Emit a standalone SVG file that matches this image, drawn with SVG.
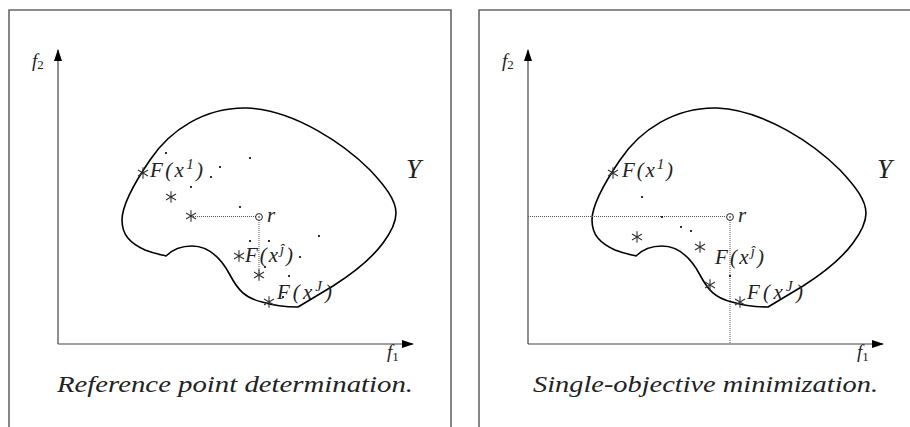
<svg xmlns="http://www.w3.org/2000/svg" xmlns:xlink="http://www.w3.org/1999/xlink" width="910" height="427" viewBox="0 0 910 427">
<style>
.frame{fill:none;stroke:#666;stroke-width:1.6}
.axis{fill:none;stroke:#444;stroke-width:1.2}
.shape{fill:none;stroke:#000;stroke-width:1.6;stroke-linejoin:round}
.dotted{fill:none;stroke:#555;stroke-width:1;stroke-dasharray:1 1}
.star{fill:none;stroke:#333;stroke-width:1.1}
.pt{fill:#000}
.lbl{font-family:"Liberation Serif","DejaVu Serif",serif;font-style:italic;font-size:21px;fill:#222}
.big{font-family:"Liberation Serif","DejaVu Serif",serif;font-style:italic;font-size:27px;fill:#222}
.cap{font-family:"Liberation Serif","DejaVu Serif",serif;font-style:italic;font-size:23px;fill:#222}
.ax{font-family:"Liberation Serif","DejaVu Serif",serif;font-style:italic;font-size:19px;fill:#222}
.sub{font-style:normal;font-size:13px}
.sup{font-size:15px}
</style>
<defs>
<marker id="arr" viewBox="0 0 12 8" refX="11" refY="4" markerWidth="12" markerHeight="8" markerUnits="userSpaceOnUse" orient="auto">
<path d="M0,0 L12,4 L0,8 Z" fill="#000"/>
</marker>
<path id="region" d="M166,256 C172,250 182,246 192,246 C210,246 222,260 230,275 C238,290 245,298 262,302 C275,306 285,307 298,307 L333,286 C355,272 372,258 383,243 C392,231 396,222 396,213 C396,200 385,186 370,170 C345,145 295,110 247,108 C205,107 170,130 150,160 C135,182 122,205 122,220 C122,235 130,243 145,250 C155,254 163,255 166,256 Z"/>
<g id="ast"><path d="M0,-5.8 V5.8 M-5,-2.9 L5,2.9 M-5,2.9 L5,-2.9"/></g>
</defs>

<g id="panel-left">
<path class="frame" d="M9,428 V10 H451 V428"/>
<g id="axes-left">
<line class="axis" x1="58" y1="344" x2="58" y2="50" marker-end="url(#arr)"/>
<line class="axis" x1="58" y1="344" x2="413" y2="344" marker-end="url(#arr)"/>
<text class="ax" x="32" y="67">f<tspan class="sub" dy="2">2</tspan></text>
<text class="ax" x="387" y="358">f<tspan class="sub" dy="3">1</tspan></text>
</g>
<use id="region-left" xlink:href="#region" class="shape"/>
<text class="big" x="406" y="178">Y</text>
<g id="connectors-left">
<line class="dotted" x1="193" y1="216.5" x2="256" y2="216.5"/>
<line class="dotted" x1="259" y1="220" x2="259" y2="273"/>
</g>
<g id="r-left">
<circle cx="259" cy="217" r="3.4" fill="none" stroke="#222" stroke-width="1"/>
<circle cx="259" cy="217" r="0.8" class="pt"/>
<text class="lbl" x="267" y="222">r</text>
</g>
<g id="stars-left" class="star">
<use xlink:href="#ast" x="143" y="173"/>
<use xlink:href="#ast" x="171" y="197"/>
<use xlink:href="#ast" x="191" y="216"/>
<use xlink:href="#ast" x="239" y="256"/>
<use xlink:href="#ast" x="259" y="275"/>
<use xlink:href="#ast" x="269" y="302"/>
</g>
<g id="dots-left" class="pt">
<circle cx="166" cy="153" r="1.1"/>
<circle cx="250" cy="158" r="1.1"/>
<circle cx="220" cy="167" r="1.1"/>
<circle cx="211" cy="177" r="1.1"/>
<circle cx="191" cy="187" r="1.1"/>
<circle cx="240" cy="207" r="1.1"/>
<circle cx="319" cy="236" r="1.1"/>
<circle cx="250" cy="241" r="1.1"/>
<circle cx="269" cy="241" r="1.1"/>
<circle cx="300" cy="257" r="1.1"/>
<circle cx="265" cy="267" r="1.1"/>
<circle cx="289" cy="276" r="1.1"/>
<circle cx="283" cy="297" r="1.1"/>
</g>
<g id="labels-left">
<text class="lbl" x="150" y="177" textLength="53">F(x<tspan class="sup" dy="-8">1</tspan><tspan dy="8">)</tspan></text>
<text class="lbl" x="245" y="262" textLength="48">F(x<tspan class="sup" dy="-8">ĵ</tspan><tspan dy="8">)</tspan></text>
<text class="lbl" x="277" y="299" textLength="55">F(x<tspan class="sup" dy="-8">J</tspan><tspan dy="8">)</tspan></text>
</g>
<text class="cap" x="57" y="392" textLength="356" lengthAdjust="spacingAndGlyphs">Reference point determination.</text>
</g>

<g id="panel-right">
<path class="frame" d="M479,428 V10 H911"/>
<g id="axes-right">
<line class="axis" x1="528" y1="344" x2="528" y2="50" marker-end="url(#arr)"/>
<line class="axis" x1="528" y1="344" x2="883" y2="344" marker-end="url(#arr)"/>
<text class="ax" x="502" y="67">f<tspan class="sub" dy="2">2</tspan></text>
<text class="ax" x="857" y="358">f<tspan class="sub" dy="3">1</tspan></text>
</g>
<use id="region-right" xlink:href="#region" class="shape" transform="translate(470,0)"/>
<text class="big" x="877" y="178">Y</text>
<g id="connectors-right">
<line class="dotted" x1="528" y1="216.5" x2="726" y2="216.5"/>
<line class="dotted" x1="730" y1="220" x2="730" y2="344"/>
</g>
<g id="r-right">
<circle cx="730" cy="217" r="3.4" fill="none" stroke="#222" stroke-width="1"/>
<circle cx="730" cy="217" r="0.8" class="pt"/>
<text class="lbl" x="738" y="222">r</text>
</g>
<g id="stars-right" class="star">
<use xlink:href="#ast" x="613" y="173"/>
<use xlink:href="#ast" x="637" y="237"/>
<use xlink:href="#ast" x="700" y="247"/>
<use xlink:href="#ast" x="710" y="285"/>
<use xlink:href="#ast" x="740" y="302"/>
</g>
<g id="dots-right" class="pt">
<circle cx="642" cy="197" r="1.1"/>
<circle cx="662" cy="217" r="1.1"/>
<circle cx="681" cy="227" r="1.1"/>
<circle cx="691" cy="231" r="1.1"/>
<circle cx="730" cy="276" r="1.1"/>
</g>
<g id="labels-right">
<text class="lbl" x="622" y="177" textLength="51">F(x<tspan class="sup" dy="-8">1</tspan><tspan dy="8">)</tspan></text>
<text class="lbl" x="715" y="264" textLength="49">F(x<tspan class="sup" dy="-8">ĵ</tspan><tspan dy="8">)</tspan></text>
<text class="lbl" x="747" y="299" textLength="56">F(x<tspan class="sup" dy="-8">J</tspan><tspan dy="8">)</tspan></text>
</g>
<text class="cap" x="533" y="392" textLength="345" lengthAdjust="spacingAndGlyphs">Single-objective minimization.</text>
</g>
</svg>
